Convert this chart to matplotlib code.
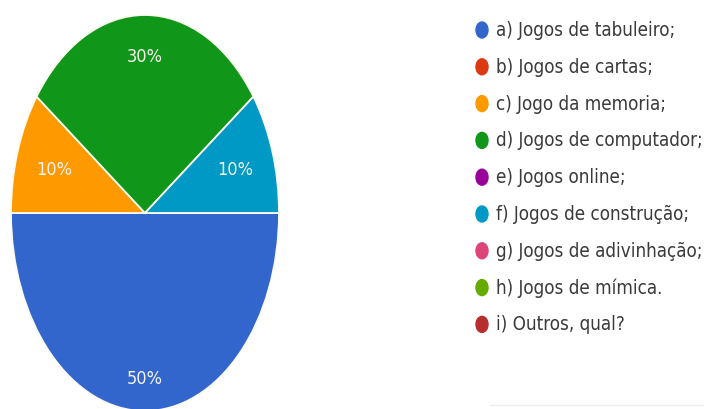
import matplotlib
matplotlib.use("Agg")
import numpy as np
import matplotlib.pyplot as plt
from matplotlib.patches import Ellipse

# SECTION Data

labels = [
    "a) Jogos de tabuleiro;",
    "b) Jogos de cartas;",
    "c) Jogo da memoria;",
    "d) Jogos de computador;",
    "e) Jogos online;",
    "f) Jogos de construção;",
    "g) Jogos de adivinhação;",
    "h) Jogos de mímica.",
    "i) Outros, qual?",
]
percent = [50, 0, 10, 30, 0, 10, 0, 0, 0]
colors = ["#3366cc", "#dc3912", "#ff9900", "#109618", "#990099",
          "#0099c6", "#dd4477", "#66aa00", "#b82e2e"]

FONT = ["DejaVu Sans"]

# SECTION Plot

W, H = 704, 409
fig = plt.figure(figsize=(W / 100, H / 100), dpi=100)
fig.patch.set_facecolor("white")

# pie is drawn stretched vertically, so the axes box is taller than wide
px_left, px_top, px_w, px_h = 11, 15, 268, 396
ax = fig.add_axes([px_left / W, 1 - (px_top + px_h) / H, px_w / W, px_h / H])

shown = [(v, c) for v, c in zip(percent, colors) if v > 0]
vals = [v for v, _ in shown]
cols = [c for _, c in shown]

wedges, texts, autotexts = ax.pie(
    vals, colors=cols, startangle=0, counterclock=False,
    autopct="%d%%", pctdistance=0.78,
    wedgeprops=dict(edgecolor="#fbfbf0", linewidth=1.3),
    textprops=dict(color="#f4f4ee", fontsize=13, family=FONT,
                   fontstretch="condensed"),
)
# move each percent label in a bit, small slices sit closer to the middle
label_dist = [0.84, 0.71, 0.79, 0.71]
for w, t, d in zip(wedges, autotexts, label_dist):
    mid = np.deg2rad((w.theta1 + w.theta2) / 2)
    t.set_position((d * np.cos(mid), d * np.sin(mid)))

ax.set_aspect("auto")
ax.set_xlim(-1, 1)
ax.set_ylim(-1, 1)
ax.axis("off")

# legend drawn in pixel coordinates
lg = fig.add_axes([0, 0, 1, 1])
lg.set_xlim(0, W)
lg.set_ylim(H, 0)
lg.axis("off")
row0, step = 30, 36.8
for i, (lab, c) in enumerate(zip(labels, colors)):
    y = row0 + i * step
    lg.add_patch(Ellipse((482, y), 12, 16, color=c))
    lg.text(496, y + 0.5, lab, fontsize=13.5, family=FONT,
            fontstretch="condensed", color="#3a3a3a",
            ha="left", va="center")

lg.plot([490, 704], [405, 405], color="#eeeeee", linewidth=1)

fig.savefig("out.png", dpi=100)
